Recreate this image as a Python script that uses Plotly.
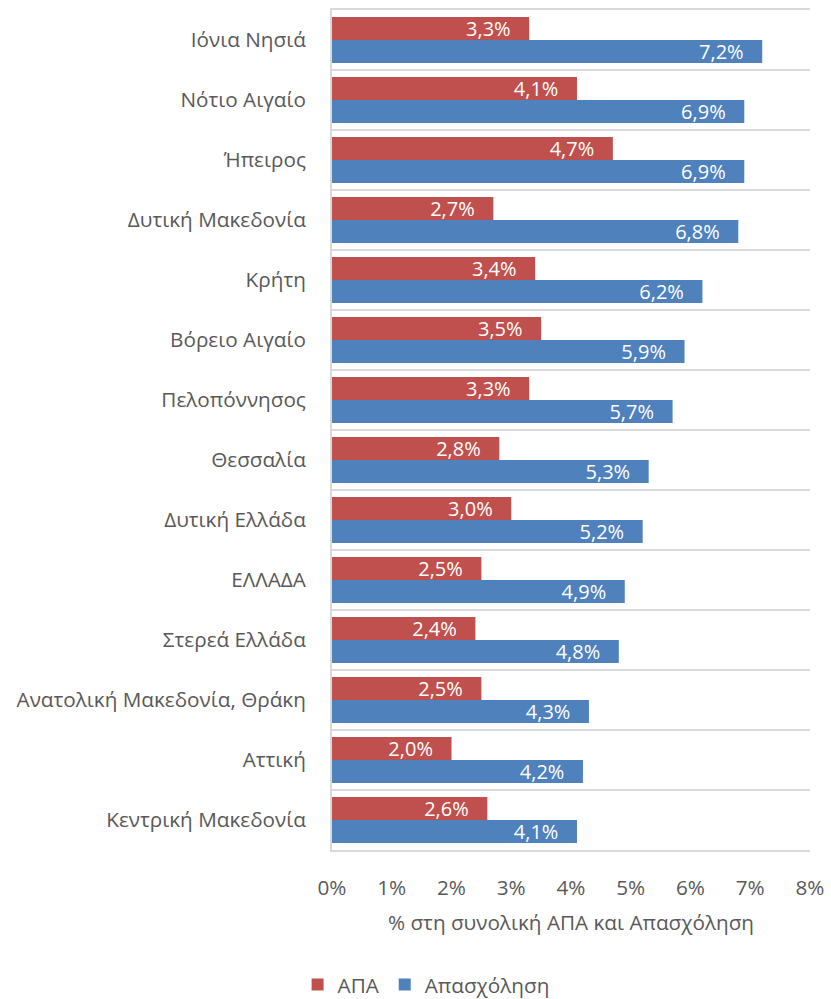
import plotly.graph_objects as go

regions = ["Ιόνια Νησιά", "Νότιο Αιγαίο", "Ήπειρος", "Δυτική Μακεδονία", "Κρήτη",
           "Βόρειο Αιγαίο", "Πελοπόννησος", "Θεσσαλία", "Δυτική Ελλάδα", "ΕΛΛΑΔΑ",
           "Στερεά Ελλάδα", "Ανατολική Μακεδονία, Θράκη", "Αττική", "Κεντρική Μακεδονία"]
apa = [3.3, 4.1, 4.7, 2.7, 3.4, 3.5, 3.3, 2.8, 3.0, 2.5, 2.4, 2.5, 2.0, 2.6]
apasxolisi = [7.2, 6.9, 6.9, 6.8, 6.2, 5.9, 5.7, 5.3, 5.2, 4.9, 4.8, 4.3, 4.2, 4.1]
x_ticks = [0, 1, 2, 3, 4, 5, 6, 7, 8]

FONT = "Open Sans"
GRAY = "#595959"
FS = 20.7

fig = go.Figure()
for name, vals, col in [("ΑΠΑ", apa, "#C0504D"), ("Απασχόληση", apasxolisi, "#4F81BD")]:
    fig.add_trace(go.Bar(
        name=name, y=regions, x=vals, orientation="h",
        marker=dict(color=col, line=dict(width=0)),
        texttemplate="%{x:.1f}%\u00a0\u00a0\u00a0", textposition="inside", insidetextanchor="end",
        constraintext="none",
        textfont=dict(color="white", size=20, family=FONT), hoverinfo="x+y",
    ))

fig.update_layout(
    width=831, height=999,
    barmode="group", bargap=0.23, bargroupgap=0,
    separators=",.",
    plot_bgcolor="white", paper_bgcolor="white",
    margin=dict(l=332, r=21, t=10, b=149, autoexpand=False),
    font=dict(family=FONT, size=FS, color=GRAY),
    xaxis=dict(
        range=[0, 8], tickvals=x_ticks, ticktext=[f"{v}%" for v in x_ticks],
        showgrid=False, zeroline=False, automargin=False,
        showline=True, linecolor="#D9D9D9", linewidth=2, mirror=True,
        tickfont=dict(size=FS, color=GRAY), ticks="", ticklabelstandoff=18,
        ticklabeloverflow="allow",
        title=dict(text="% στη συνολική ΑΠΑ και Απασχόληση", font=dict(size=FS, color=GRAY), standoff=16),
    ),
    yaxis=dict(
        autorange="reversed", type="category", tickson="boundaries", automargin=False,
        showgrid=True, gridcolor="#D9D9D9", gridwidth=2,
        showline=True, linecolor="#D9D9D9", linewidth=2,
        ticks="", tickfont=dict(size=FS, color=GRAY), ticklabelstandoff=20,
    ),
    legend=dict(orientation="h", x=-0.072, xanchor="left", y=-0.1364, yanchor="top",
                font=dict(size=FS, color=GRAY), itemwidth=30),
)
fig.write_html("out.html", config={"displayModeBar": False},
               post_script="document.body.style.margin='0';")
